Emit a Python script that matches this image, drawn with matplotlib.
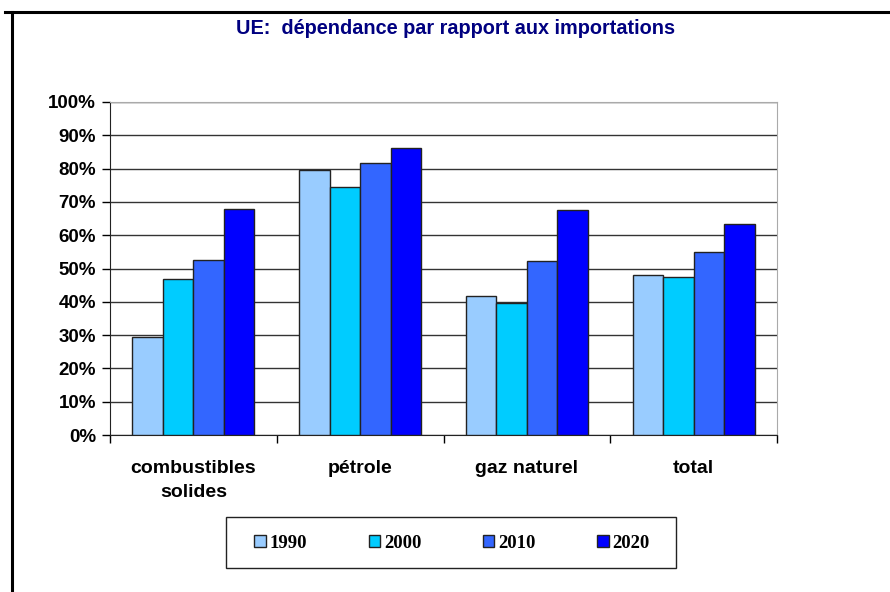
import matplotlib.pyplot as plt
import matplotlib.lines as mlines
import matplotlib.patches as mpatches
import numpy as np

# data (% import dependency)
categories = ["combustibles\nsolides", "pétrole", "gaz naturel", "total"]
years = ["1990", "2000", "2010", "2020"]
v1990 = [29.3, 79.6, 41.7, 47.9]
v2000 = [46.8, 74.4, 39.5, 47.5]
v2010 = [52.7, 81.8, 52.4, 55.0]
v2020 = [67.8, 86.2, 67.5, 63.4]
series = [v1990, v2000, v2010, v2020]
colors = ["#99CCFF", "#00CCFF", "#3366FF", "#0000FF"]

fig = plt.figure(figsize=(8.9, 5.92), dpi=100)
ax = fig.add_axes([110 / 890, 1 - 435 / 592, 667 / 890, 333 / 592])

# outer frame (cut off at right and bottom like the source)
fig.add_artist(mlines.Line2D([12 / 890, 12 / 890], [0, 1 - 12 / 592],
                             color="black", lw=2.2, transform=fig.transFigure))
fig.add_artist(mlines.Line2D([5 / 890, 1], [1 - 12 / 592, 1 - 12 / 592],
                             color="black", lw=2.2, transform=fig.transFigure))

x = np.arange(len(categories))
bw = 0.183
for i in range(len(series)):
    ax.bar(x + (i - 1.5) * bw, series[i], width=bw, color=colors[i],
           edgecolor="#222222", linewidth=1.0, label=years[i], zorder=3)

ax.set_xlim(-0.5, 3.5)
ax.set_ylim(0, 100)
ax.set_yticks(np.arange(0, 101, 10))
ax.set_yticklabels([str(v) + "%" for v in range(0, 101, 10)],
                   fontsize=13.5, fontweight="bold", family="Liberation Sans")
ax.yaxis.grid(True, color="#333333", linewidth=1.0, zorder=0)
ax.set_axisbelow(True)

ax.set_xticks([-0.5, 0.5, 1.5, 2.5, 3.5])
ax.set_xticklabels([])
ax.set_xticks(x, minor=True)
ax.set_xticklabels(categories, minor=True, fontsize=14, fontweight="bold",
                   family="Liberation Sans", linespacing=1.55)
ax.tick_params(axis="x", which="minor", length=0, pad=18)
ax.tick_params(axis="x", which="major", direction="out", length=6, width=1)
ax.tick_params(axis="y", direction="out", length=6, width=1, pad=4)

ax.spines["left"].set_color("#222222")
ax.spines["bottom"].set_color("#222222")
ax.spines["top"].set_color("#aaaaaa")
ax.spines["right"].set_color("#aaaaaa")

fig.text(456 / 890, 1 - 28 / 592, "UE:  dépendance par rapport aux importations",
         ha="center", va="center", fontsize=14.3, fontweight="bold",
         color="#000080", family="Liberation Sans")

# legend box drawn separately
fig.add_artist(mpatches.Rectangle((226 / 890, 1 - 568 / 592), 450 / 890, 51 / 592,
                                  transform=fig.transFigure, fill=False,
                                  edgecolor="#222222", linewidth=1.0))
leg = fig.legend(loc="center", bbox_to_anchor=(452 / 890, 1 - 543 / 592),
                 ncol=4, frameon=False,
                 prop={"family": "Liberation Serif", "weight": "bold", "size": 13.5},
                 handlelength=0.6, handleheight=0.6, handletextpad=0.2,
                 columnspacing=3.3, borderpad=0, borderaxespad=0)
for h in leg.legend_handles:
    h.set_edgecolor("#222222")

fig.savefig("out.png", dpi=100)
